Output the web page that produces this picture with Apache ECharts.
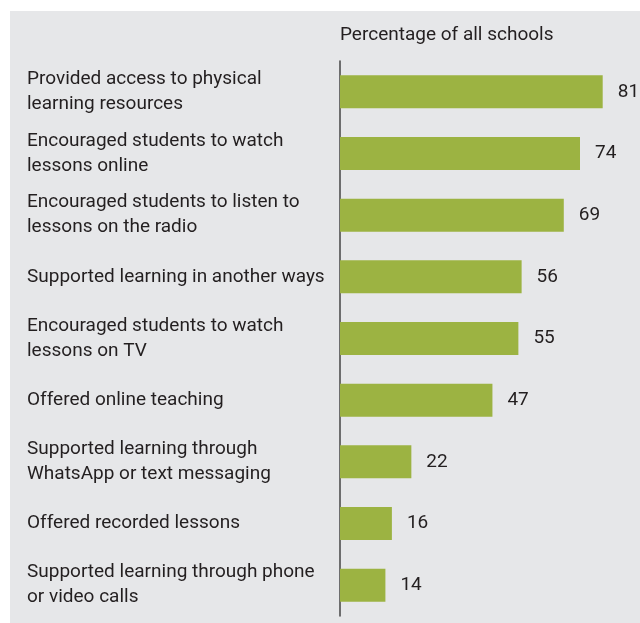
<!DOCTYPE html>
<html><head><meta charset="utf-8">
<script src="https://cdn.jsdelivr.net/npm/echarts@6/dist/echarts.min.js"></script>
<style>
html,body{margin:0;padding:0;background:#fff;}
#bg{position:absolute;left:10px;top:11px;width:630px;height:612px;background:#e6e7e9;}
#c{position:absolute;left:0;top:0;width:640px;height:623px;}
</style></head>
<body><div id="bg"></div><div id="c"></div>
<script>
const categories = [
  "Provided access to physical\nlearning resources",
  "Encouraged students to watch\nlessons online",
  "Encouraged students to listen to\nlessons on the radio",
  "Supported learning in another ways",
  "Encouraged students to watch\nlessons on TV",
  "Offered online teaching",
  "Supported learning through\nWhatsApp or text messaging",
  "Offered recorded lessons",
  "Supported learning through phone\nor video calls"
];
const values = [81, 74, 69, 56, 55, 47, 22, 16, 14];
const axisTitle = "Percentage of all schools";

const FONT = 'Roboto';
const chart = echarts.init(document.getElementById('c'));
chart.setOption({
  animation: false,
  backgroundColor: 'transparent',
  title: {
    text: axisTitle, left: 335, top: 21,
    textStyle: {fontFamily: FONT, fontSize: 19, fontWeight: 'normal', color: '#231f20'}
  },
  grid: {left: 340, right: 0, top: 61, bottom: 7, containLabel: false},
  xAxis: {type: 'value', min: 0, max: 92.5, show: false},
  yAxis: {
    type: 'category', data: categories, inverse: true,
    axisLine: {show: true, lineStyle: {color: '#444', width: 1.5}},
    axisTick: {show: false},
    axisLabel: {align: 'left', margin: 313, fontFamily: FONT, fontSize: 19, color: '#231f20', lineHeight: 25}
  },
  series: [{
    type: 'bar', data: values, barWidth: 33,
    itemStyle: {color: '#9cb342'},
    label: {show: true, position: 'right', distance: 15, fontFamily: FONT, fontSize: 19, color: '#231f20'}
  }]
});
</script></body></html>
